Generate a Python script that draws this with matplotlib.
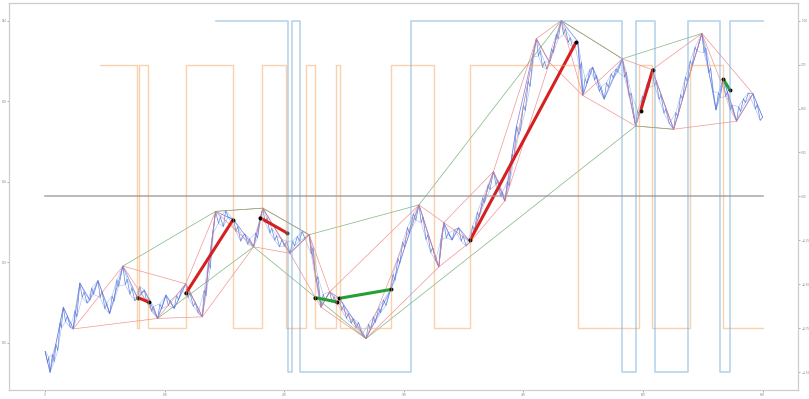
import numpy as np
import matplotlib.pyplot as plt

# fine price path
price_x = [0, 2, 3, 4.1, 6, 7.5, 9, 10.5, 12.5, 13.5, 15.2, 17, 18.5, 21, 23.5, 25, 26.5, 29, 31, 32.5,
           35, 37.3, 39, 40.5, 44.2, 46, 47.5, 50, 51.5, 53.9, 56, 57.5, 60, 61.5, 65, 67, 68.5, 71, 72.5, 75,
           77.4, 79, 80.5, 83, 85, 86.5, 89, 90.5, 94, 96, 97.5, 101, 103, 104.5, 107.9, 110, 111.5, 114, 117.6, 119.5,
           121, 124, 125.5, 128, 131.4, 133, 134.5, 136.5, 138, 140, 142.5, 145, 146.5, 149, 151, 153, 157.7, 159.5, 161, 163.5,
           165, 167, 169.5, 171, 174.3, 176, 177.5, 180, 182, 184, 185.5, 188, 189.5, 192, 193.5, 196, 198, 200, 202, 204.7,
           207, 208.5, 211, 212.5, 215, 217, 220.8, 222.5, 224, 226.5, 228, 230.7, 232.5, 234, 237.9, 240, 241.5, 244, 246.2, 248,
           249.5, 252, 253.5, 256, 257.5, 260, 262, 265, 268.3, 270.5, 272, 274.5, 276, 279, 280.5, 283, 285, 288.8, 291, 292.5,
           295, 296.5, 299, 300.5, 303, 304.5, 308, 310, 312.6, 314.5, 316, 318.5, 320, 322.5, 324, 326.5, 329.2, 331, 333.4, 335.5,
           337, 340.3, 342.5, 345.8, 348, 349.5, 352, 355.5, 357.5, 359, 361.5, 363, 366, 367.5, 370.5, 372, 374.9, 377, 378.5, 381,
           382.5, 384.5, 386.5, 388, 390.5, 392, 394.2, 396, 397.5, 400, 401.5, 404, 405.5, 408, 410.8, 412.5, 414, 416, 417.5, 419.5,
           421.8, 423.5, 425, 427.5, 429, 431.6, 433.5, 435, 437.5, 439, 441.5, 443, 445.4, 447, 448.5, 449.6, 451.5, 453, 455.5, 457.9,
           459.5, 461, 463.5, 465, 467.5, 469.5, 471, 473.5, 475, 477.5, 479, 482.7, 484.5, 486, 488.5, 490, 493.8, 495.5, 497, 499.5,
           501, 503.5, 505, 507.6, 509.5, 511, 513.5, 515, 517.5, 519, 522, 525.6, 527.5, 529, 531.5, 533, 535.5, 537, 539.5, 541,
           543.5, 545, 549.2, 551, 552.5, 555, 556.5, 558.5, 561, 563, 564.5, 567.1, 569, 570.5, 573, 574.5, 578.2, 580, 581.5, 584,
           585.5, 588, 592, 594, 595.5, 598, 600]
price_y = [98.9, 97.5, 98.2, 96.3, 98.5, 97.6, 99.8, 99.0, 102.5, 101.8, 104.4, 102.6, 103.3, 101.9, 101.7, 104.0, 103.2, 107.4, 105.6, 106.3,
           104.9, 105.3, 106.8, 106.0, 107.7, 105.6, 106.4, 104.2, 104.9, 103.6, 105.8, 105.1, 107.8, 107.0, 109.5, 107.2, 107.9, 106.0, 106.8, 105.2,
           105.5, 107.0, 106.2, 106.5, 105.0, 105.6, 103.9, 104.5, 103.0, 104.8, 104.2, 105.9, 104.6, 105.2, 104.25, 105.9, 105.3, 106.6, 107.3, 105.6,
           106.2, 104.5, 105.0, 103.7, 103.2, 106.5, 105.8, 110.0, 109.2, 113.5, 116.3, 114.8, 115.6, 114.4, 116.4, 115.6, 115.25, 113.8, 114.4, 112.6,
           113.2, 113.5, 112.2, 112.9, 111.9, 113.6, 113.0, 115.5, 116.7, 114.9, 115.5, 113.6, 114.2, 112.7, 113.3, 111.9, 112.8, 112.0, 112.6, 111.1,
           112.6, 112.0, 113.2, 112.6, 113.8, 113.0, 113.4, 111.0, 111.8, 107.5, 108.2, 104.4, 106.0, 105.3, 106.3, 105.0, 105.7, 104.8, 105.5, 104.0,
           104.6, 103.0, 103.6, 102.4, 103.0, 101.8, 102.5, 101.0, 100.5, 102.3, 101.6, 103.2, 102.5, 104.3, 103.7, 105.3, 104.6, 106.5, 108.5, 107.7,
           110.5, 109.8, 112.5, 111.8, 114.3, 113.6, 116.0, 115.2, 117.1, 114.9, 115.6, 112.8, 113.4, 111.2, 111.8, 110.2, 109.4, 112.8, 114.9, 113.0,
           113.6, 112.75, 114.0, 114.25, 112.6, 113.3, 112.0, 112.5, 114.5, 113.9, 116.2, 115.6, 118.0, 117.4, 119.6, 119.0, 121.25, 119.6, 120.2, 118.2,
           118.7, 117.6, 120.0, 119.4, 123.4, 122.8, 126.9, 125.8, 126.4, 129.5, 128.8, 132.5, 131.8, 135.5, 137.75, 135.6, 136.3, 134.2, 134.9, 134.0,
           134.8, 136.5, 136.0, 138.3, 137.7, 140.0, 138.3, 139.0, 137.3, 137.9, 136.5, 137.0, 137.4, 134.0, 134.8, 130.7, 132.8, 132.2, 133.9, 134.2,
           132.6, 133.2, 131.2, 131.8, 130.25, 132.3, 131.7, 133.4, 132.9, 134.0, 133.6, 135.25, 133.0, 133.6, 130.5, 131.0, 126.9, 128.8, 128.2, 130.6,
           130.0, 132.2, 131.7, 133.9, 131.9, 132.5, 130.2, 130.8, 128.5, 129.0, 127.2, 126.5, 128.6, 128.0, 130.8, 130.2, 133.0, 132.4, 135.0, 134.4,
           136.7, 136.2, 138.4, 136.0, 136.6, 133.5, 134.1, 131.2, 128.9, 131.0, 130.4, 132.75, 130.6, 131.2, 128.9, 129.5, 127.5, 129.3, 128.7, 130.3,
           129.8, 131.0, 130.9, 129.0, 129.6, 127.6, 128.0]

# level 1 pivots (blue zigzag)
lvl1_x = [0, 4.1, 15.2, 23.5, 29, 37.3, 44.2, 53.9, 65, 77.4, 83, 94, 101, 107.9, 117.6, 131.4, 142.5, 157.7, 174.3, 182,
          204.7, 220.8, 230.7, 237.9, 246.2, 268.3, 288.8, 312.6, 329.2, 333.4, 340.3, 345.8, 355.5, 374.9, 384.5, 394.2, 410.8,
          421.8, 431.6, 445.4, 449.6, 457.9, 467.5, 482.7, 493.8, 507.6, 525.6, 549.2, 561, 567.1, 578.2, 592, 600]
lvl1_y = [98.9, 96.3, 104.4, 101.7, 107.4, 105.3, 107.7, 103.6, 109.5, 105.5, 106.5, 103.0, 105.9, 104.25, 107.3, 103.2, 116.3,
          115.25, 111.9, 116.7, 111.1, 113.4, 104.4, 106.3, 105.5, 100.5, 106.5, 117.1, 109.4, 114.9, 112.75, 114.25, 112.5, 121.25,
          117.6, 126.9, 137.75, 134.8, 140.0, 137.4, 130.7, 134.2, 130.25, 135.25, 126.9, 133.9, 126.5, 138.4, 128.9, 132.75, 127.5,
          130.9, 128.0]

# level 2 pivots (red), starting on a low
lvl2_x = [23.5, 65, 94, 117.6, 131.4, 142.5, 174.3, 182, 204.7, 220.8, 230.7, 237.9, 268.3, 312.6, 329.2, 333.4, 355.5,
          374.9, 384.5, 410.8, 421.8, 431.6, 449.6, 482.7, 493.8, 507.6, 525.6, 549.2, 578.2, 592]
lvl2_y = [101.7, 109.5, 103.0, 107.3, 103.2, 116.3, 111.9, 116.7, 111.1, 113.4, 104.4, 106.3, 100.5, 117.1, 109.4, 114.9,
          112.5, 121.25, 117.6, 137.75, 134.8, 140.0, 130.7, 135.25, 126.9, 133.9, 126.5, 138.4, 127.5, 130.9]

# level 3 (green) highs and lows
lvl3_hi_x = [65, 142.5, 182, 220.8, 312.6, 431.6, 482.7, 549.2]
lvl3_hi_y = [109.5, 116.3, 116.7, 113.4, 117.1, 140.0, 135.25, 138.4]
lvl3_lo_x = [94, 174.3, 268.3, 493.8, 525.6]
lvl3_lo_y = [103.0, 111.9, 100.5, 126.9, 126.5]

# highlighted trend segments
red_seg_x = [[77.4, 87.1], [117.6, 157.1], [179.8, 202.5], [355.5, 444.0], [498.0, 508.1]]
red_seg_y = [[105.6, 105.0], [106.1, 115.25], [115.5, 113.6], [112.75, 137.3], [128.8, 133.9]]
green_seg_x = [[225.6, 243.7], [246.0, 289.2], [567.1, 572.6]]
green_seg_y = [[105.6, 105.06], [105.5, 106.6], [132.7, 131.4]]

# signal steps (right axis)
orange_x = [46, 76.4, 78.8, 85.7, 117.6, 157.1, 181.2, 201.4, 218.5, 225.5, 243.4, 246.2, 289.1, 325.1, 355.4,
            445.4, 496.3, 507.7, 539.4, 567.1, 600]
orange_y = [0.75, -0.75, 0.75, -0.75, 0.75, -0.75, 0.75, -0.75, 0.75, -0.75, 0.75, -0.75, 0.75, -0.75, 0.75,
            -0.75, 0.75, -0.75, 0.75, -0.75, -0.75]
sig_x = [142.7, 203.3, 206.1, 213.0, 306.2, 482.8, 493.8, 510.4, 538.0, 564.3, 572.6, 600]
sig_y = [1, -1, 1, -1, 1, -1, 1, -1, 1, -1, 1, 1]

fig = plt.figure(figsize=(8.09, 3.99), dpi=100)
ax = fig.add_axes([0.0115, 0.0226, 0.9755, 0.97])
ax2 = ax.twinx()

# price drawn as a few overlapping blue layers
ax.plot(price_x, price_y, color='#4470d8', lw=0.5, alpha=0.85)
ax.plot(price_x[::2], price_y[::2], color='#5a80e0', lw=0.4, alpha=0.55)
ax.plot(price_x[1::2], price_y[1::2], color='#5a80e0', lw=0.4, alpha=0.55)
ax.plot(lvl1_x, lvl1_y, color='#5f6fe0', lw=0.6, alpha=0.75)

red_hi = (lvl2_x[1::2], lvl2_y[1::2])
red_lo = (lvl2_x[0::2], lvl2_y[0::2])
ax.plot(lvl2_x, lvl2_y, color='#f07a7a', lw=0.5, alpha=0.8)
ax.plot(*red_hi, color='#f07a7a', lw=0.5, alpha=0.8)
ax.plot(*red_lo, color='#f07a7a', lw=0.5, alpha=0.8)

ax.plot(lvl3_hi_x, lvl3_hi_y, color='#6aaa6a', lw=0.5, alpha=0.85)
ax.plot(lvl3_lo_x, lvl3_lo_y, color='#6aaa6a', lw=0.5, alpha=0.85)

for sx, sy in zip(red_seg_x, red_seg_y):
    ax.plot(sx, sy, color='#d62020', lw=2.2, solid_capstyle='round')
    ax.plot(sx, sy, 'o', color='black', ms=1.8)
for sx, sy in zip(green_seg_x, green_seg_y):
    ax.plot(sx, sy, color='#22a033', lw=2.2, solid_capstyle='round')
    ax.plot(sx, sy, 'o', color='black', ms=1.8)

ax.set_yticks([100, 110, 120, 130, 140])
ax.set_xticks([0, 100, 200, 300, 400, 500, 600])

ax2.step(orange_x, orange_y, where='post', color='#f5a55a', lw=1.0, alpha=0.5)
ax2.step(sig_x, sig_y, where='post', color='#7fb0d8', lw=1.2, alpha=0.55)
ax2.plot([0, 600], [0, 0], color='#999999', lw=1.2, alpha=0.8)
ax2.set_ylim(-1.1, 1.1)
ax2.set_yticks(np.arange(-1, 1.01, 0.25))

for a in (ax, ax2):
    a.tick_params(labelsize=2, length=1.5, width=0.5, colors='#888888', pad=0.5)
    for s in a.spines.values():
        s.set_color('#cccccc')
        s.set_linewidth(0.8)

fig.savefig('out.png', dpi=100)
